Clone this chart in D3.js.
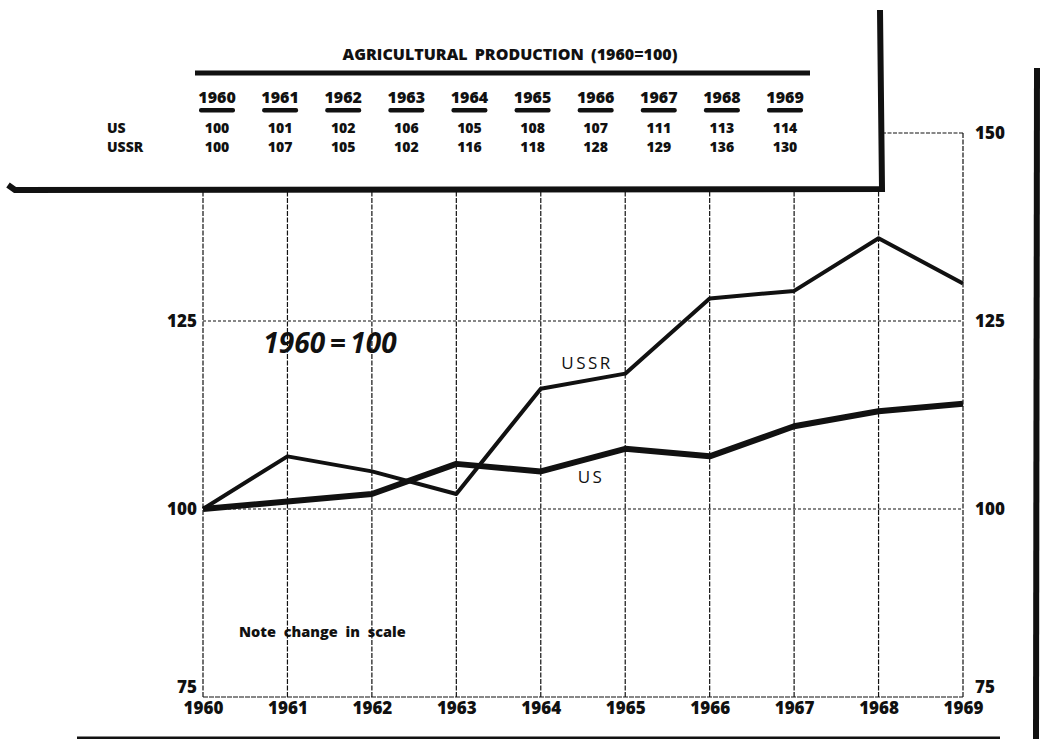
<!DOCTYPE html>
<html><head><meta charset="utf-8">
<script src="https://cdn.jsdelivr.net/npm/d3@7"></script>
<style>
body{margin:0;background:#fff;}
svg{display:block;}
text{font-family:"Open Sans","DejaVu Sans",sans-serif;fill:#111;}
</style></head>
<body><svg id="c" width="1042" height="739"></svg>
<script>
const years = [1960,1961,1962,1963,1964,1965,1966,1967,1968,1969];
const us = [100,101,102,106,105,108,107,111,113,114];
const ussr = [100,107,105,102,116,118,128,129,136,130];
const leftTicks = [75,100,125];
const rightTicks = [75,100,125,150];
const title = "AGRICULTURAL PRODUCTION (1960=100)";

const svg = d3.select("#c");
const x = d3.scaleLinear().domain([1960,1969]).range([203,963]);
const y = d3.scaleLinear().domain([75,150]).range([697,133]);
const tx = d3.scaleLinear().domain([1960,1969]).range([217,785]);
const ink = "#111";

// grid
const g = svg.append("g");
g.selectAll(".vg").data(years).join("line")
  .attr("x1",d=>x(d)).attr("x2",d=>x(d))
  .attr("y1",y(75)).attr("y2",d=>d===1969?y(150):190)
  .attr("stroke",ink).attr("stroke-width",1.2).attr("stroke-dasharray","5,1.5");
g.selectAll(".hg").data([75,100,125]).join("line")
  .attr("x1",x(1960)).attr("x2",x(1969))
  .attr("y1",d=>y(d)).attr("y2",d=>y(d))
  .attr("stroke",ink).attr("stroke-width",1.2).attr("stroke-dasharray",d=>d===75?"5,1":"3,2");
g.append("line").attr("x1",882).attr("x2",x(1969)).attr("y1",y(150)).attr("y2",y(150))
  .attr("stroke",ink).attr("stroke-width",1.2).attr("stroke-dasharray","4,1.5");

// axes
const ax = svg.append("g").attr("transform",`translate(0,${y(75)+1})`)
  .call(d3.axisBottom(x).tickValues(years).tickFormat(d3.format("d")).tickSize(0).tickPadding(3));
ax.select(".domain").remove();
ax.selectAll("text").attr("font-family","'Open Sans',sans-serif").attr("font-weight","800")
  .attr("font-size",17).attr("fill",ink).attr("dy","0.75em");

const al = svg.append("g").attr("transform",`translate(${x(1960)-4},0)`)
  .call(d3.axisLeft(y).tickValues(leftTicks).tickSize(0).tickPadding(2));
al.select(".domain").remove();
al.selectAll("text").attr("font-family","'Open Sans',sans-serif").attr("font-weight","800")
  .attr("font-size",17).attr("fill",ink).attr("dy",d=>d===75?"-0.25em":"0.32em");

const ar = svg.append("g").attr("transform",`translate(${x(1969)+10},0)`)
  .call(d3.axisRight(y).tickValues(rightTicks).tickSize(0).tickPadding(2));
ar.select(".domain").remove();
ar.selectAll("text").attr("font-family","'Open Sans',sans-serif").attr("font-weight","800")
  .attr("font-size",17).attr("fill",ink).attr("dy",d=>d===75?"-0.25em":"0.32em");

// lines
const line = d3.line().x((d,i)=>x(years[i])).y(d=>y(d));
svg.append("path").datum(ussr).attr("d",line).attr("fill","none").attr("stroke",ink)
  .attr("stroke-width",4).attr("stroke-linejoin","round");
svg.append("path").datum(us).attr("d",line).attr("fill","none").attr("stroke",ink)
  .attr("stroke-width",6).attr("stroke-linejoin","round");

// labels in plot
svg.append("text").attr("x",587).attr("y",369).attr("text-anchor","middle")
  .attr("font-family","'DejaVu Sans',sans-serif")
  .attr("font-size",17).attr("font-weight",400).attr("letter-spacing",2.5).text("USSR");
svg.append("text").attr("x",591).attr("y",483).attr("text-anchor","middle")
  .attr("font-family","'DejaVu Sans',sans-serif")
  .attr("font-size",17).attr("font-weight",400).attr("letter-spacing",2.5).text("US");
svg.append("text").attr("x",330).attr("y",353).attr("text-anchor","middle")
  .attr("font-size",28).attr("font-weight",700).attr("font-style","italic").text("1960\u2009=\u2009100");
svg.append("text").attr("x",239).attr("y",637)
  .attr("font-size",14.5).attr("font-weight",800).attr("word-spacing",4).text("Note change in scale");

// table
svg.append("text").attr("x",510).attr("y",60).attr("text-anchor","middle")
  .attr("font-size",16).attr("font-weight",800).attr("word-spacing",3).text(title);
svg.append("line").attr("x1",195).attr("x2",810).attr("y1",73).attr("y2",73)
  .attr("stroke",ink).attr("stroke-width",5);
const th = svg.append("g");
th.selectAll("text").data(years).join("text").attr("x",d=>tx(d)).attr("y",103)
  .attr("text-anchor","middle").attr("font-size",16).attr("font-weight",800).text(d=>d);
th.selectAll("rect").data(years).join("rect").attr("x",d=>tx(d)-18).attr("y",108)
  .attr("width",36).attr("height",4.5).attr("rx",2).attr("fill",ink);
svg.append("g").selectAll("text").data(us).join("text").attr("x",(d,i)=>tx(years[i])).attr("y",133)
  .attr("text-anchor","middle").attr("font-size",14).attr("font-weight",800).text(d=>d);
svg.append("g").selectAll("text").data(ussr).join("text").attr("x",(d,i)=>tx(years[i])).attr("y",152)
  .attr("text-anchor","middle").attr("font-size",14).attr("font-weight",800).text(d=>d);
svg.append("text").attr("x",107).attr("y",133).attr("font-size",14).attr("font-weight",800).text("US");
svg.append("text").attr("x",107).attr("y",152).attr("font-size",14).attr("font-weight",800).text("USSR");

// frame
svg.append("path").attr("d","M8,185 L15,190 L882,189 L880,10")
  .attr("fill","none").attr("stroke",ink).attr("stroke-width",6).attr("stroke-linejoin","miter");
svg.append("line").attr("x1",1037).attr("x2",1036).attr("y1",68).attr("y2",739)
  .attr("stroke",ink).attr("stroke-width",6);
svg.append("line").attr("x1",77).attr("x2",1000).attr("y1",738).attr("y2",738)
  .attr("stroke",ink).attr("stroke-width",3);
</script></body></html>
